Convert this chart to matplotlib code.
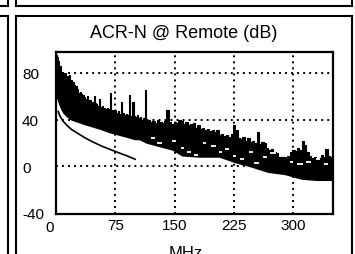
import matplotlib
matplotlib.use("Agg")
import matplotlib.pyplot as plt
from matplotlib.lines import Line2D
import matplotlib.transforms as mtransforms
import numpy as np

plt.rcParams['font.family'] = ['Liberation Sans', 'DejaVu Sans']
plt.rcParams['axes.unicode_minus'] = False

# ---------------- data ----------------
title = "ACR-N @ Remote (dB)"
xlabel = "MHz"
xticks = [0, 75, 150, 225, 300]
yticks = [-40, 0, 40, 80]

band_f = [0.5, 2, 3.5, 5, 6.5, 8, 9.5, 11, 12.5, 14, 15.5, 17, 18.5, 20, 21.5, 23, 24.5, 26,
          27.5, 29, 30.5, 32, 33.5, 35, 36.5, 38, 39.5, 41, 42.5, 44, 45.5, 47, 48.5, 50,
          51.5, 53, 55, 57, 59, 61, 63, 65, 67, 69, 71, 73, 75, 77, 79, 81, 83, 85, 87, 89,
          91, 93, 95, 97, 99, 101, 103, 105, 107, 109, 111, 113, 115, 117, 120, 123, 126,
          129, 132, 135, 138, 141, 144, 147, 150, 153, 156, 159, 162, 165, 168, 171, 174,
          177, 180, 183, 186, 189, 192, 195, 198, 201, 204, 207, 210, 213, 216, 219, 222,
          225, 228, 231, 234, 237, 240, 243, 246, 249, 252, 255, 258, 261, 264, 267, 270,
          273, 276, 279, 282, 285, 288, 291, 294, 297, 300, 303, 306, 309, 312, 315, 318,
          321, 324, 327, 330, 333, 336, 339, 342, 345, 348, 350]
band_upper = [95, 94, 90, 86, 81, 80, 80, 79, 80, 77, 77, 78, 72, 74, 72, 70, 68, 69,
              66, 63, 64, 62, 60, 61, 59, 58, 60, 57, 56, 57, 55, 54, 60, 54,
              53, 52, 58, 51, 52, 50, 49, 50, 49, 63, 48, 47, 48, 46, 47, 45, 55, 46, 44, 45,
              44, 61, 43, 55, 43, 42, 44, 41, 42, 40, 41, 65, 39, 40, 38, 39, 37,
              40, 38, 37, 39, 48, 38, 36, 38, 37, 40, 39, 36, 38, 35, 36, 37,
              33, 35, 32, 33, 31, 32, 30, 31, 29, 31, 27, 28, 26, 27, 25, 28,
              35, 31, 24, 23, 25, 22, 24, 21, 22, 20, 29, 19, 21, 20, 16, 14,
              15, 12, 11, 10, 9, 10, 8, 9, 12, 14, 13, 16, 14, 22, 18, 12,
              9, 7, 8, 6, 7, 10, 8, 15, 9, 8, 8]

band_lo_f = [0.5, 3, 5, 7, 10, 14, 20, 28, 36, 46, 58, 68, 79, 90, 100, 106, 115, 131,
             148, 160, 182, 207, 228, 245, 268, 290, 311, 330, 350]
band_lower = [62, 57, 53, 50, 46, 43, 40, 38, 36, 34, 31.5, 29, 27, 25, 23, 23, 20, 17,
              14, 9, 8, 8, 3, 0, -5, -7, -11, -12, -12]

# white gaps between overlapping traces (start MHz, end MHz, dB)
gap_f0 = [120, 128, 146, 158, 166, 174, 186, 196, 206, 214, 224, 232, 244, 250, 262,
          270, 282, 296, 304, 316, 328, 338]
gap_f1 = [125, 134, 152, 162, 171, 179, 190, 202, 210, 219, 228, 238, 249, 256, 266,
          278, 292, 300, 312, 322, 334, 344]
gap_db = [24, 20, 22, 16, 12, 10, 20, 17, 12, 15, 9, 6, 12, 3, 8,
          11, 9, 4, 2, 4, 6, 2]

limA_f = [2.8, 5, 7, 10, 14, 20, 28]
limA_db = [58.5, 54, 50, 46, 43, 40, 38]

limB_f = [2.8, 5, 9, 14, 19.6, 28, 36.5, 46, 57.6, 68, 79, 90, 100]
limB_db = [47, 43, 38.6, 35, 31.5, 28, 24.4, 21, 17.3, 14.5, 11.6, 8.8, 6]

# ---------------- figure ----------------
W, H = 355, 255
fig = plt.figure(figsize=(W / 100, H / 100), dpi=100)

def fx(px):
    return px / W

def fy(py):
    return 1 - py / H

ax = fig.add_axes([fx(56), fy(215), fx(333) - fx(56), fy(53) - fy(215)])
ax.set_xlim(0, 350)
ax.set_ylim(-41, 98)

grid_kw = dict(color='black', linewidth=1.4, linestyle=(0, (1, 2.1)), zorder=1)
for xv in xticks[1:]:
    ax.axvline(xv, **grid_kw)
for yv in yticks[1:]:
    ax.axhline(yv, **grid_kw)

lower_interp = np.interp(band_f, band_lo_f, band_lower)
ax.fill_between(band_f, lower_interp, band_upper, step='mid', color='black',
                linewidth=0, zorder=3)
ax.plot(band_f, band_upper, drawstyle='steps-mid', color='black', linewidth=0.8, zorder=3)
ax.plot(band_lo_f, band_lower, color='black', linewidth=1.2, zorder=3)
ax.hlines(gap_db, gap_f0, gap_f1, color='white', linewidth=1.3, zorder=4)
ax.plot(limA_f, limA_db, color='black', linewidth=1.2, zorder=3)
ax.plot(limB_f, limB_db, color='black', linewidth=1.2, zorder=3)

for s in ax.spines.values():
    s.set_linewidth(1.6)
    s.set_zorder(5)

ax.set_xticks(xticks)
ax.set_yticks(yticks)
ax.tick_params(length=0, labelsize=11)
ax.tick_params(axis='y', pad=24.5)
for lab in ax.get_yticklabels():
    lab.set_horizontalalignment('left')
ax.tick_params(axis='x', pad=3)
xl = ax.get_xticklabels()
xl[0].set_transform(xl[0].get_transform() +
                    mtransforms.ScaledTranslation(-6 / 100, -2 / 100, fig.dpi_scale_trans))

fig.text(fx(184), fy(33), title, ha='center', va='center', fontsize=13)
fig.text(fx(186), fy(246), xlabel, ha='center', va='top', fontsize=12)

# panel borders
lw = 1.5
def seg(x0, y0, x1, y1):
    fig.add_artist(Line2D([fx(x0), fx(x1)], [fy(y0), fy(y1)], color='black',
                          linewidth=lw, solid_capstyle='projecting'))

seg(8, -2, 8, 7)
seg(-2, 7, 8, 7)
seg(16, -2, 16, 7)
seg(16, 7, 352, 7)
seg(352, -2, 352, 7)
seg(-2, 17, 8, 17)
seg(8, 17, 8, 258)
seg(16, 17, 352, 17)
seg(16, 17, 16, 258)
seg(352, 17, 352, 258)

fig.savefig("out.png", dpi=100)
